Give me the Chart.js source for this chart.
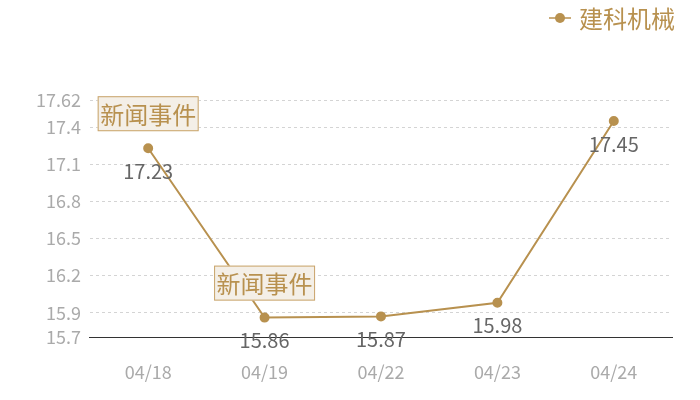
<!DOCTYPE html>
<html>
<head>
<meta charset="utf-8">
<script src="https://cdn.jsdelivr.net/npm/chart.js@4/dist/chart.umd.min.js"></script>
<style>
  html, body { margin: 0; padding: 0; background: #fff; }
  #wrap { width: 700px; height: 400px; }
</style>
</head>
<body>
<div id="wrap"><canvas id="c"></canvas></div>
<script>
const dates = ['04/18', '04/19', '04/22', '04/23', '04/24'];
const prices = [17.23, 15.86, 15.87, 15.98, 17.45];
const yTicks = [15.7, 15.9, 16.2, 16.5, 16.8, 17.1, 17.4, 17.62];
const eventIdx = [0, 1];
const eventText = '新闻事件';
const seriesName = '建科机械';

const GOLD = '#b8914f';
const FONT = '"Noto Sans CJK SC", "Noto Sans", sans-serif';

const extras = {
    id: 'extras',
    afterDatasetsDraw(chart) {
        const ctx = chart.ctx;
        const meta = chart.getDatasetMeta(0);
        ctx.save();
        // value labels under the points
        ctx.font = '20px ' + FONT;
        ctx.fillStyle = '#666';
        ctx.textAlign = 'center';
        ctx.textBaseline = 'middle';
        meta.data.forEach((pt, i) => {
            ctx.fillText(prices[i].toFixed(2), pt.x, pt.y + 23);
        });
        // event boxes above points
        ctx.font = '24px ' + FONT;
        eventIdx.forEach(i => {
            const pt = meta.data[i];
            const w = 101, h = 35;
            const x = pt.x - w / 2, y = pt.y - 52;
            ctx.fillStyle = '#f4efe7';
            ctx.fillRect(x, y, w, h);
            ctx.strokeStyle = '#c9a46a';
            ctx.lineWidth = 1;
            ctx.strokeRect(x + 0.5, y + 0.5, w - 1, h - 1);
            ctx.fillStyle = GOLD;
            ctx.fillText(eventText, pt.x, y + h / 2 + 1);
        });
        // legend top right
        ctx.font = '24px ' + FONT;
        ctx.textAlign = 'left';
        ctx.strokeStyle = GOLD;
        ctx.lineWidth = 1.5;
        ctx.beginPath();
        ctx.moveTo(549, 18);
        ctx.lineTo(571, 18);
        ctx.stroke();
        ctx.fillStyle = GOLD;
        ctx.beginPath();
        ctx.arc(560, 18, 5, 0, Math.PI * 2);
        ctx.fill();
        ctx.fillText(seriesName, 579, 19);
        ctx.restore();
    }
};

new Chart(document.getElementById('c'), {
    type: 'line',
    data: {
        labels: dates,
        datasets: [{
            label: seriesName,
            data: prices,
            borderColor: GOLD,
            backgroundColor: GOLD,
            borderWidth: 2,
            pointRadius: 4,
            pointHoverRadius: 4,
            tension: 0
        }]
    },
    options: {
        responsive: true,
        maintainAspectRatio: false,
        animation: false,
        layout: { padding: { top: 100, right: 28, left: 27, bottom: -7 } },
        plugins: {
            legend: { display: false },
            tooltip: { enabled: false }
        },
        scales: {
            x: {
                offset: true,
                grid: { display: false, drawTicks: false },
                border: { display: true, color: '#333', width: 1 },
                ticks: { color: '#aaa', font: { size: 18, family: FONT }, padding: 24 }
            },
            y: {
                min: 15.7,
                max: 17.62,
                afterBuildTicks: axis => { axis.ticks = yTicks.map(v => ({ value: v })); },
                grid: { color: '#d4d4d4', drawTicks: false, lineWidth: 1 },
                border: { display: false, dash: [3, 3] },
                ticks: {
                    color: '#aaa',
                    font: { size: 18, family: FONT },
                    padding: 9,
                    callback: v => String(v)
                }
            }
        }
    },
    plugins: [extras]
});
</script>
</body>
</html>
